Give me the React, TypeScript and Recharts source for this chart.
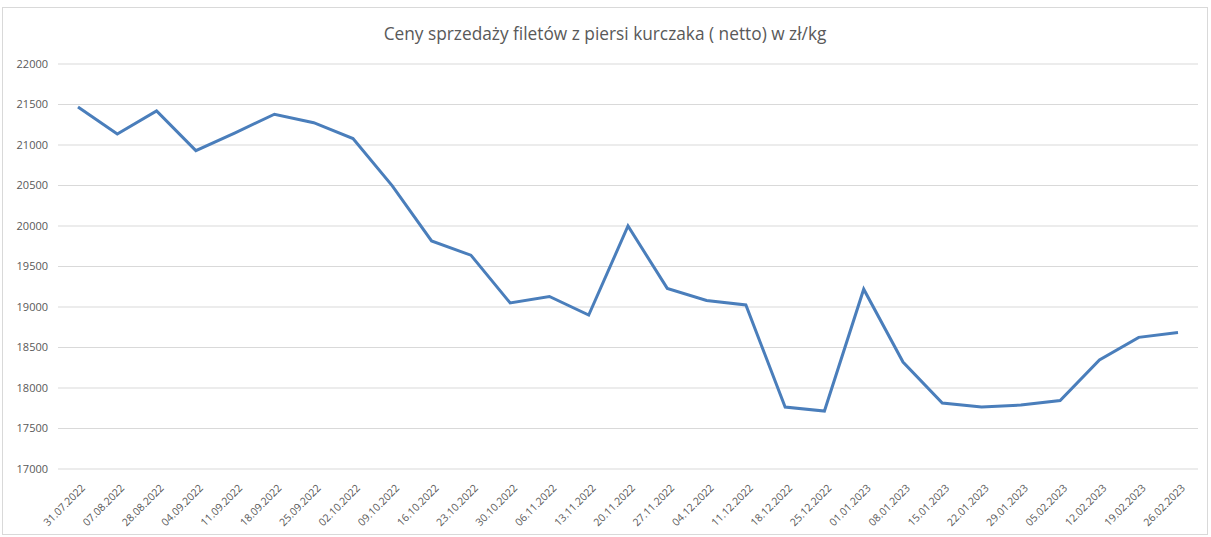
import React from "react"
import { LineChart, Line, CartesianGrid, XAxis, YAxis } from "recharts"

const dates = [
  "31.07.2022", "07.08.2022", "28.08.2022", "04.09.2022", "11.09.2022", "18.09.2022",
  "25.09.2022", "02.10.2022", "09.10.2022", "16.10.2022", "23.10.2022", "30.10.2022",
  "06.11.2022", "13.11.2022", "20.11.2022", "27.11.2022", "04.12.2022", "11.12.2022",
  "18.12.2022", "25.12.2022", "01.01.2023", "08.01.2023", "15.01.2023", "22.01.2023",
  "29.01.2023", "05.02.2023", "12.02.2023", "19.02.2023", "26.02.2023",
]

const prices = [
  21470, 21135, 21420, 20930, 21150, 21380,
  21275, 21080, 20495, 19815, 19640, 19050,
  19130, 18900, 20000, 19230, 19080, 19025,
  17765, 17715, 19220, 18320, 17815, 17765,
  17790, 17845, 18345, 18625, 18685,
]

const yTicks = [17000, 17500, 18000, 18500, 19000, 19500, 20000, 20500, 21000, 21500, 22000]

const data = dates.map((date, i) => ({ date, price: prices[i] }))

const FONT = "'Open Sans', 'Noto Sans', sans-serif"

function DateTick({ x, y, payload }: { x?: number; y?: number; payload?: { value: string } }) {
  return (
    <g transform={`translate(${(x ?? 0) + 5},${(y ?? 0) + 9})`}>
      <text
        textAnchor="end"
        transform="rotate(-45)"
        fill="#595959"
        fontSize={10.5}
        fontFamily={FONT}
        dy={4}
      >
        {payload?.value}
      </text>
    </g>
  )
}

export default function App() {
  return (
    <div
      style={{
        position: "absolute",
        left: 2,
        top: 7,
        width: 1204,
        height: 526,
        border: "1px solid #d9d9d9",
        background: "#fff",
      }}
    >
      <div
        style={{
          position: "absolute",
          top: 14,
          left: 0,
          width: "100%",
          textAlign: "center",
          fontFamily: FONT,
          fontSize: 17.3,
          color: "#595959",
        }}
      >
        Ceny sprzedaży filetów z piersi kurczaka ( netto) w zł/kg
      </div>
      <LineChart
        width={1204}
        height={526}
        data={data}
        margin={{ top: 56, right: 9, left: 5, bottom: 5 }}
      >
        <CartesianGrid stroke="#d9d9d9" vertical={false} />
        <XAxis
          dataKey="date"
          interval={0}
          tick={<DateTick />}
          tickLine={false}
          axisLine={false}
          height={60}
          padding={{ left: 20, right: 20 }}
        />
        <YAxis
          domain={[17000, 22000]}
          ticks={yTicks}
          width={50}
          tickSize={0}
          tickMargin={10}
          tickLine={false}
          axisLine={false}
          tick={{ fill: "#595959", fontSize: 11, fontFamily: FONT }}
        />
        <Line
          type="linear"
          dataKey="price"
          stroke="#4a7ebb"
          strokeWidth={3}
          dot={false}
          isAnimationActive={false}
        />
      </LineChart>
    </div>
  )
}
